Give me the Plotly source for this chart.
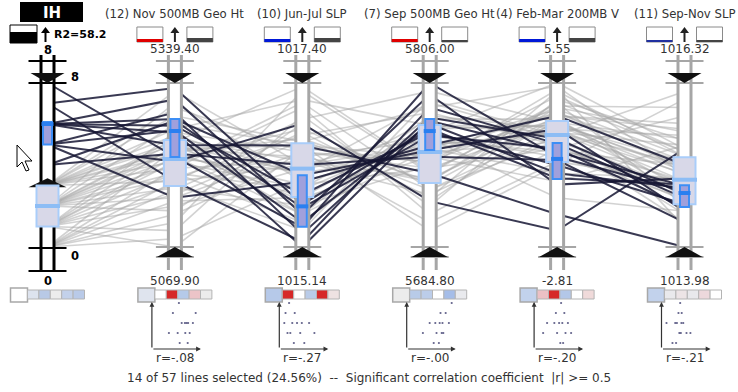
import plotly.graph_objects as go

# ---------------- data ----------------
axis_names = ["IH", "(12) Nov 500MB Geo Ht", "(10) Jun-Jul SLP",
              "(7) Sep 500MB Geo Ht", "(4) Feb-Mar 200MB V", "(11) Sep-Nov SLP"]
axis_min = [0.0, 5069.90, 1015.14, 5684.80, -2.81, 1013.98]
axis_max = [8.0, 5339.40, 1017.40, 5806.00, 5.55, 1016.32]
min_labels = ["0", "5069.90", "1015.14", "5684.80", "-2.81", "1013.98"]
max_labels = ["8", "5339.40", "1017.40", "5806.00", "5.55", "1016.32"]
corr_labels = ["", "r=-.08", "r=-.27", "r=-.00", "r=-.20", "r=-.21"]
r2_label = "R2=58.2"
ih_brush_low = 3.35

ih = [8, 7, 7, 6, 6, 6, 6, 6, 5, 5, 5, 5, 4, 4,
      0, 0, 0, 0, 0, 0, 0, 0,
      1, 1, 1, 1, 1, 1, 1, 1, 1, 1,
      2, 2, 2, 2, 2, 2, 2, 2, 2, 2, 2, 2, 2,
      3, 3, 3, 3, 3, 3, 3, 3, 3, 3, 3, 3]
nov_500mb = [5218.1, 5331.3, 5177.7, 5280.1, 5312.4, 5258.5, 5237.0, 5269.3, 5290.9, 5150.8, 5261.2, 5210.0, 5277.4, 5223.5,
             5123.8, 5164.2, 5083.4, 5199.3, 5145.4, 5231.6, 5110.3, 5177.7, 5218.1, 5156.1, 5237.0, 5096.9, 5191.2, 5258.5,
             5172.3, 5210.0, 5137.3, 5069.9, 5226.2, 5247.8, 5183.1, 5307.1, 5204.6, 5166.9, 5231.6, 5129.2, 5215.4, 5272.0,
             5191.2, 5242.4, 5150.8, 5210.0, 5325.9, 5226.2, 5253.2, 5177.7, 5237.0, 5299.0, 5199.3, 5263.9, 5220.8, 5285.5, 5242.4]
junjul_slp = [1015.41, 1015.73, 1015.21, 1016.13, 1015.59, 1015.14, 1016.54, 1015.86, 1015.32, 1016.04, 1015.48, 1016.84, 1015.68, 1016.27,
              1016.38, 1016.72, 1016.04, 1017.06, 1015.82, 1016.54, 1017.29, 1016.27, 1015.59, 1016.61, 1016.16, 1016.95, 1015.93, 1016.45,
              1015.37, 1016.77, 1016.22, 1016.50, 1015.82, 1016.32, 1016.68, 1016.04, 1017.13, 1015.71, 1016.38, 1016.84, 1016.18, 1016.54,
              1015.48, 1017.35, 1016.45, 1015.95, 1016.27, 1016.63, 1016.13, 1016.90, 1015.77, 1016.45, 1016.32, 1017.17, 1016.00, 1016.59, 1015.59]
sep_500mb = [5806.0, 5772.1, 5787.8, 5756.3, 5797.5, 5778.1, 5739.3, 5769.6, 5780.5, 5760.0, 5775.7, 5718.7, 5767.2, 5751.5,
             5733.3, 5721.2, 5760.0, 5709.0, 5751.5, 5696.9, 5739.3, 5769.6, 5781.8, 5727.2, 5755.1, 5715.1, 5767.2, 5743.0,
             5793.9, 5730.9, 5757.5, 5747.8, 5774.5, 5735.7, 5784.2, 5757.5, 5727.2, 5745.4, 5763.6, 5718.7, 5791.5, 5751.5,
             5772.1, 5740.6, 5703.0, 5779.3, 5760.0, 5733.3, 5755.1, 5800.0, 5764.8, 5747.8, 5723.6, 5774.5, 5743.0, 5787.8, 5757.5]
febmar_200mb_v = [1.79, 0.70, 2.46, 3.21, 0.37, 2.04, -1.14, 1.37, 2.71, 3.88, 0.95, -1.97, 2.21, 1.62,
                  4.30, 5.13, 3.04, 2.21, 3.71, 1.37, 4.55, 5.55, 3.21, 2.62, 4.05, 4.71, 1.79, 3.46,
                  2.87, 3.88, 0.95, 4.88, 3.04, 3.54, 2.37, 4.21, 3.21, 5.22, 2.04, 3.88, 2.71, 0.53,
                  3.38, 4.38, 1.54, 3.71, 3.04, 4.55, 2.54, 3.54, -0.30, 4.05, 2.87, 3.38, 2.21, 5.38, 3.04]
sepnov_slp = [1014.78, 1014.87, 1014.68, 1014.49, 1014.96, 1014.85, 1013.98, 1014.59, 1014.73, 1015.15, 1014.82, 1015.38, 1014.54, 1014.33,
              1015.62, 1015.27, 1015.03, 1015.85, 1014.80, 1016.09, 1014.57, 1015.38, 1014.92, 1014.33, 1015.20, 1015.50, 1014.68, 1015.10,
              1014.45, 1015.74, 1014.96, 1015.34, 1014.87, 1015.06, 1014.64, 1015.27, 1015.57, 1014.26, 1015.15, 1015.66, 1014.78, 1015.43,
              1015.01, 1015.97, 1014.92, 1014.68, 1015.15, 1015.34, 1014.92, 1015.52, 1014.49, 1015.10, 1016.20, 1015.20, 1014.80, 1015.01, 1015.43]

# box plots: all lines / selected lines (q1, median, q3)
box_all_q1 = [1.0, 5170.2, 1015.83, 5732.1, 1.52, 1014.59]
box_all_med = [2.0, 5214.5, 1016.22, 5755.0, 2.90, 1014.94]
box_all_q3 = [3.0, 5245.7, 1016.57, 5775.0, 3.61, 1015.26]
box_sel_q1 = [5.0, 5217.9, 1015.42, 5756.5, 0.66, 1014.55]
box_sel_med = [6.0, 5260.5, 1015.70, 5770.5, 1.68, 1014.75]
box_sel_q3 = [6.1, 5280.2, 1016.13, 5779.4, 2.49, 1014.86]

# correlation chips (first = large chip)
chip_colors = [
    ["#ffffff", "#dde3ee", "#b8c9e6", "#ececec", "#c3d1ea", "#b9cae8"],
    ["#dfe4ee", "#ffffff", "#d62828", "#b5cae9", "#ecc4c8", "#ececec"],
    ["#b6c9e9", "#d62828", "#ffffff", "#b9cbe8", "#d62828", "#eee2e2"],
    ["#ececec", "#b8cbe8", "#bccde9", "#ffffff", "#a5bde8", "#e9eaee"],
    ["#c2d2ec", "#ecc0c4", "#d62828", "#b3c7e8", "#ffffff", "#f0dada"],
    ["#c2d2ec", "#e9e9ec", "#ece4e6", "#e8e8ec", "#ecd8dc", "#ffffff"],
]
# header indicator bars: (left color, left thickness, right color, right thickness)
header_bars = [None,
               ("#e00000", 3, "#444444", 4),
               ("#0018d8", 3, "#444444", 4),
               ("#e00000", 3, "#444444", 2),
               ("#0018d8", 3, "#444444", 4),
               ("#2030a0", 2, "#444444", 2)]

columns = [ih, nov_500mb, junjul_slp, sep_500mb, febmar_200mb_v, sepnov_slp]
n_lines = len(ih)
for c in columns:
    assert len(c) == n_lines

# ---------------- geometry helpers ----------------
X0, DX = 47.5, 127.4
YT, YB = 83.0, 247.0
H = YB - YT
W_PX, H_PX = 738, 392


def PX(px):
    return (px - X0) / DX


def OX(d):
    return d / DX


def PY(py):
    return (YB - py) / H


def norm(i, v):
    return (v - axis_min[i]) / (axis_max[i] - axis_min[i])


FONT = "DejaVu Sans"
shapes = []
annots = []


def add_rect(x0, x1, y0, y1, fill, lc=None, lw=0):
    shapes.append(dict(type="rect", xref="x", yref="y", x0=x0, x1=x1, y0=y0, y1=y1,
                       fillcolor=fill, line=dict(color=lc if lc else "rgba(0,0,0,0)", width=lw),
                       layer="above"))


def add_line(x0, y0, x1, y1, color, w):
    shapes.append(dict(type="line", xref="x", yref="y", x0=x0, y0=y0, x1=x1, y1=y1,
                       line=dict(color=color, width=w), layer="above"))


def add_path(pts, fill, lc=None, lw=0):
    d = "M " + " L ".join(f"{x:.5f},{y:.5f}" for x, y in pts) + " Z"
    shapes.append(dict(type="path", xref="x", yref="y", path=d, fillcolor=fill,
                       line=dict(color=lc if lc else "rgba(0,0,0,0)", width=lw), layer="above"))


def add_text(x, y, s, size=11, color="#333333", bold=False, xanchor="center"):
    annots.append(dict(x=x, y=y, xref="x", yref="y", text=(f"<b>{s}</b>" if bold else s),
                       showarrow=False, xanchor=xanchor, yanchor="middle",
                       font=dict(family=FONT, size=size, color=color)))


def add_up_arrow(cx, color):
    # small upward arrow glyph drawn as shapes (x in data units)
    add_line(cx, PY(42), cx, PY(31), color, 2)
    add_path([(cx - OX(4.5), PY(33)), (cx + OX(4.5), PY(33)), (cx, PY(27))], color)


# ---------------- polylines ----------------
selected = [v > ih_brush_low for v in ih]
gx, gy, sx, sy = [], [], [], []
for k in range(n_lines):
    xs = list(range(6))
    ys = [norm(i, columns[i][k]) for i in range(6)]
    if selected[k]:
        sx += xs + [None]
        sy += ys + [None]
    else:
        gx += xs + [None]
        gy += ys + [None]

fig = go.Figure()
fig.add_trace(go.Scatter(x=gx, y=gy, mode="lines", hoverinfo="skip",
                         line=dict(color="rgba(165,165,165,0.5)", width=1.6)))
fig.add_trace(go.Scatter(x=sx, y=sy, mode="lines", hoverinfo="skip",
                         line=dict(color="rgba(22,22,52,0.85)", width=2)))

# ---------------- axes (rails) ----------------
for i in range(6):
    rc = "#000000" if i == 0 else "#a6a6a6"
    bottom = 272 if i == 0 else 270
    add_rect(i - OX(6.5), i + OX(6.5), PY(bottom), PY(55), "white")
    add_line(i - OX(6.5), PY(55), i - OX(6.5), PY(bottom), rc, 3)
    add_line(i + OX(6.5), PY(55), i + OX(6.5), PY(bottom), rc, 3)
    bars = [61, 83, 248, 271] if i == 0 else [61, 83, 247, 257]
    for b in bars:
        add_line(i - OX(19), PY(b), i + OX(19), PY(b), rc, 2.2)
    # top brush handle
    add_path([(i - OX(17), PY(73)), (i + OX(17), PY(73)), (i, norm(i, axis_max[i]))], "#111111")
    if i == 0:
        yb = norm(0, ih_brush_low)
        add_path([(i - OX(19), yb - 9 / H), (i + OX(19), yb - 9 / H), (i, yb)], "#111111")
    else:
        add_path([(i - OX(18), PY(257)), (i + OX(18), PY(257)), (i, norm(i, axis_min[i]))], "#111111")

# ---------------- box plots ----------------
for i in range(6):
    add_rect(i - OX(11), i + OX(11), norm(i, box_all_q1[i]), norm(i, box_all_q3[i]),
             "#d8d8e8", "#a9cdfa", 2)
    m = norm(i, box_all_med[i])
    add_rect(i - OX(12.5), i + OX(12.5), m - 2 / H, m + 2 / H, "#8dbdf5")
    add_rect(i - OX(4.5), i + OX(4.5), norm(i, box_sel_q1[i]), norm(i, box_sel_q3[i]),
             "#a0a0dc", "#3d8ef5", 2)
    m = norm(i, box_sel_med[i])
    add_rect(i - OX(6), i + OX(6), m - 2 / H, m + 2 / H, "#2a7ff0")

# ---------------- headers ----------------
add_rect(PX(20), PX(83), PY(22), PY(2), "#000000")
add_text(PX(51.5), PY(12.5), "IH", size=15, color="white", bold=True)
add_rect(PX(10), PX(37), PY(43), PY(25), "white", "#000000", 1)
add_rect(PX(10), PX(37), PY(43), PY(32), "#000000")
add_up_arrow(PX(45.5), "#000000")
add_text(PX(52), PY(34), r2_label, size=11, color="#000000", bold=True, xanchor="left")
add_text(0, PY(50), max_labels[0], size=11.5, color="#000000", bold=True)
add_text(PX(75), PY(77), max_labels[0], size=11.5, color="#000000", bold=True)
add_text(PX(75), PY(256), min_labels[0], size=11.5, color="#000000", bold=True)
add_text(0, PY(281), min_labels[0], size=11.5, color="#000000", bold=True)

for i in range(1, 6):
    add_text(i, PY(14), axis_names[i], size=11.7, color="#333333")
    lc_, lt, rcol, rt = header_bars[i]
    add_rect(i - OX(38), i - OX(12), PY(42), PY(27), "white", "#8a8a8a", 1)
    add_rect(i - OX(38), i - OX(12), PY(42), PY(42 - lt), lc_)
    add_rect(i + OX(12), i + OX(38), PY(42), PY(27), "white", "#8a8a8a", 1)
    add_rect(i + OX(12), i + OX(38), PY(42), PY(42 - rt), rcol)
    add_up_arrow(i, "#222222")
    add_text(i, PY(49), max_labels[i], size=12, color="#333333")
    add_text(i, PY(281), min_labels[i], size=12, color="#333333")

# ---------------- correlation chips ----------------
for i in range(6):
    cols = chip_colors[i]
    add_rect(i - OX(37), i - OX(20), PY(302), PY(288), cols[0], "#a8a8a8", 1.5)
    for j in range(5):
        x0 = i - OX(20) + OX(11.4) * j
        add_rect(x0, x0 + OX(11.4), PY(299), PY(290), cols[j + 1], "#b4b4b4", 1)

# ---------------- mini scatter plots (IH vs variable, selected lines) ----------------
sel_idx = [k for k in range(n_lines) if selected[k]]
ih_sel = [ih[k] for k in sel_idx]
ih_lo, ih_hi = min(ih_sel), max(ih_sel)
dx_, dy_ = [], []
for i in range(1, 6):
    ox = i - OX(23)
    annots.append(dict(x=ox, y=PY(302), ax=ox, ay=PY(349), xref="x", yref="y",
                       axref="x", ayref="y", text="", showarrow=True, arrowhead=2,
                       arrowsize=0.8, arrowwidth=1.2, arrowcolor="#333333"))
    annots.append(dict(x=i + OX(26), y=PY(349), ax=ox, ay=PY(349), xref="x", yref="y",
                       axref="x", ayref="y", text="", showarrow=True, arrowhead=2,
                       arrowsize=0.8, arrowwidth=1.2, arrowcolor="#333333"))
    for k in sel_idx:
        dx_.append(ox + OX(5 + 40 * norm(i, columns[i][k])))
        dy_.append(PY(343 - 40 * (ih[k] - ih_lo) / (ih_hi - ih_lo)))
    add_text(i, PY(358), corr_labels[i], size=12, color="#333333")

fig.add_trace(go.Scatter(x=dx_, y=dy_, mode="markers", hoverinfo="skip",
                         marker=dict(size=2.2, color="rgba(60,60,110,0.8)")))

n_sel = len(sel_idx)
footer = (f"{n_sel} of {n_lines} lines selected ({100 * n_sel / n_lines:.2f}%)  --  "
          f"Significant correlation coefficient  |r| >= 0.5")
add_text(PX(369), PY(378), footer, size=12, color="#333333")

# mouse cursor
cur = [(17, 145), (17, 167), (22, 162), (26, 171), (29, 170), (25, 161), (32, 161)]
add_path([(PX(a), PY(b)) for a, b in cur], "white", "#000000", 1)

fig.update_layout(
    width=W_PX, height=H_PX, margin=dict(l=0, r=0, t=0, b=0),
    paper_bgcolor="white", plot_bgcolor="white", showlegend=False,
    xaxis=dict(range=[PX(0), PX(W_PX)], visible=False, fixedrange=True),
    yaxis=dict(range=[PY(H_PX), PY(0)], visible=False, fixedrange=True),
    shapes=shapes, annotations=annots,
)
fig.write_html("out.html", config={"displayModeBar": False},
               post_script="document.body.style.margin='0px';document.body.style.overflow='hidden';")
